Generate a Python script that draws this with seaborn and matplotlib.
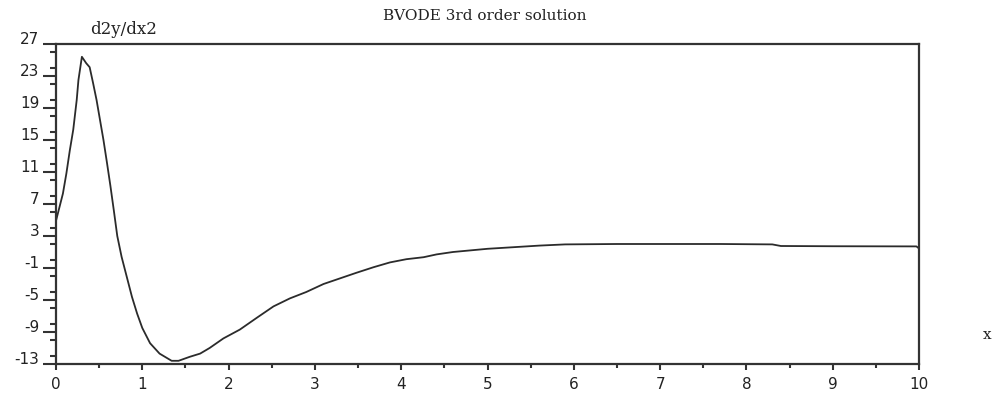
import matplotlib
matplotlib.use("Agg")
import matplotlib.pyplot as plt
from matplotlib.ticker import MultipleLocator, FixedLocator
import seaborn as sns
import pandas as pd

# Second derivative of the BVODE third-order solution
x_vals = [0.0, 0.08, 0.12, 0.16, 0.2, 0.24, 0.26, 0.3, 0.35, 0.39, 0.43, 0.47,
          0.51, 0.55, 0.59, 0.63, 0.67, 0.71, 0.76, 0.82, 0.88, 0.94, 1.0, 1.09,
          1.2, 1.34, 1.42, 1.55, 1.67, 1.78, 1.94, 2.13, 2.33, 2.52, 2.71, 2.9,
          3.1, 3.29, 3.48, 3.68, 3.87, 4.06, 4.26, 4.41, 4.6, 4.8, 5.0, 5.3,
          5.6, 5.9, 6.5, 7.1, 7.7, 8.3, 8.4, 9.0, 9.97, 10.0]
d2y_vals = [4.9, 8.3, 10.8, 13.7, 16.3, 20.0, 22.5, 25.4, 24.6, 24.1, 22.1, 20.0,
            17.5, 15.0, 12.2, 9.3, 6.2, 3.0, 0.4, -2.1, -4.6, -6.7, -8.5, -10.4,
            -11.7, -12.6, -12.6, -12.1, -11.7, -11.0, -9.8, -8.7, -7.2, -5.8, -4.8, -4.0,
            -3.0, -2.3, -1.6, -0.9, -0.3, 0.1, 0.35, 0.7, 1.0, 1.2, 1.4, 1.6,
            1.8, 1.95, 2.0, 2.0, 2.0, 1.95, 1.75, 1.72, 1.7, 1.45]

x_ticks = [0, 1, 2, 3, 4, 5, 6, 7, 8, 9, 10]
y_ticks = [-13, -9, -5, -1, 3, 7, 11, 15, 19, 23, 27]

title_text = "BVODE 3rd order solution"
y_label_text = "d2y/dx2"
x_label_text = "x"

sns.set_style("white")
plt.rcParams["font.family"] = ["DejaVu Sans"]

df = pd.DataFrame({"x": x_vals, "d2y": d2y_vals})

fig = plt.figure(figsize=(9.95, 3.96), dpi=100)
ax = fig.add_axes([56 / 995, 32 / 396, (919 - 56) / 995, (364 - 44) / 396])

sns.lineplot(data=df, x="x", y="d2y", ax=ax, color="#2b2b2b", linewidth=1.3,
             estimator=None, sort=False)

ax.set_xlim(0, 10)
ax.set_ylim(-13, 27)
ax.xaxis.set_major_locator(FixedLocator(x_ticks))
ax.xaxis.set_minor_locator(MultipleLocator(0.5))
ax.yaxis.set_major_locator(FixedLocator(y_ticks))
ax.yaxis.set_minor_locator(MultipleLocator(2))
ax.set_xticklabels([str(t) for t in x_ticks])
ax.set_yticklabels([str(t) for t in y_ticks])

for side in ["left", "right", "top", "bottom"]:
    ax.spines[side].set_visible(True)
    ax.spines[side].set_color("#333333")
    ax.spines[side].set_linewidth(1.6)

ax.tick_params(axis="y", which="major", direction="out", length=9.5, width=1.5,
               color="#333333", labelsize=11, pad=2.5, labelcolor="#222222")
ax.tick_params(axis="y", which="minor", direction="out", length=4.5, width=1.5,
               color="#333333")
ax.tick_params(axis="x", which="major", direction="out", length=4.5, width=1.5,
               color="#333333", labelsize=11, pad=5, labelcolor="#222222")
ax.tick_params(axis="x", which="minor", direction="out", length=3, width=1.5,
               color="#333333")
ax.tick_params(left=True, bottom=True, which="both")
for lbl in ax.get_yticklabels():
    lbl.set_verticalalignment("baseline")

ax.set_xlabel("")
ax.set_ylabel("")

fig.text(485 / 995, 1 - 16 / 396, title_text, ha="center", va="center",
         fontsize=11, family="DejaVu Serif", color="#222222")
fig.text(124 / 995, 1 - 30 / 396, y_label_text, ha="center", va="center",
         fontsize=12, family="DejaVu Serif", color="#222222")
fig.text(987 / 995, 1 - 335 / 396, x_label_text, ha="center", va="center",
         fontsize=11, family="DejaVu Serif", color="#222222")

fig.savefig("out.png", dpi=100, facecolor="white")
